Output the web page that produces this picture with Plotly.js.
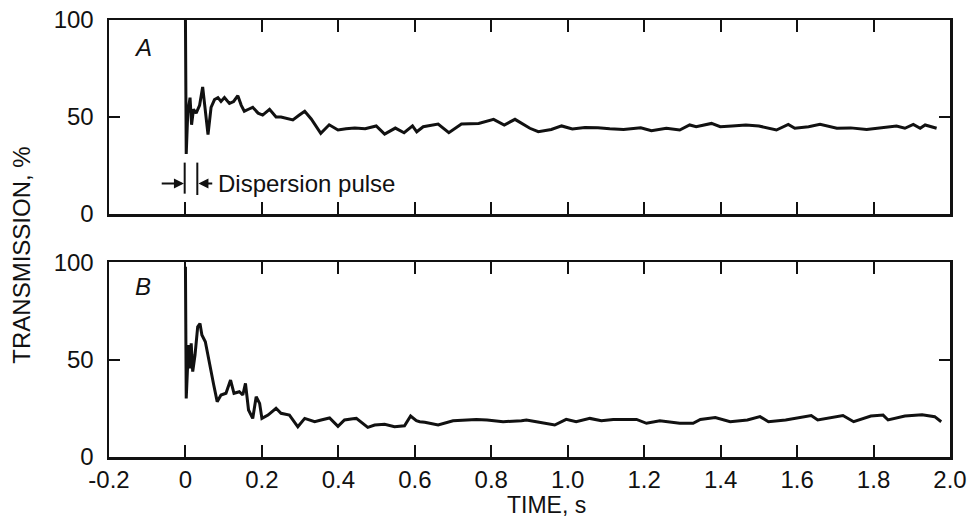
<!DOCTYPE html>
<html>
<head>
<meta charset="utf-8">
<script src="https://cdn.plot.ly/plotly-3.0.1.min.js"></script>
<style>
html,body{margin:0;padding:0;background:#fff;}
#chart{width:968px;height:521px;}
</style>
</head>
<body>
<div id="chart"></div>
<script>
// ---- data ----
var timeA = [0.000,0.002,0.006,0.012,0.016,0.021,0.028,0.037,0.045,0.052,0.059,0.067,0.076,0.085,0.093,0.102,0.115,0.126,0.137,0.146,0.154,0.165,0.176,0.190,0.202,0.220,0.237,0.250,0.264,0.281,0.298,0.312,0.329,0.346,0.354,0.376,0.399,0.420,0.443,0.470,0.499,0.521,0.549,0.572,0.594,0.605,0.622,0.661,0.689,0.722,0.767,0.806,0.834,0.862,0.879,0.901,0.923,0.957,0.984,1.012,1.045,1.079,1.110,1.146,1.191,1.219,1.258,1.293,1.319,1.336,1.376,1.399,1.430,1.466,1.500,1.546,1.577,1.594,1.630,1.660,1.704,1.740,1.782,1.820,1.860,1.882,1.904,1.922,1.935,1.965];
var transA = [100,31,52,60,46,54,52,56,65.5,54,41,55,59,60,58,60,57,58,61,56,53,54,55,52,51,54,50,50,49.5,48.5,51,53,49,44,41.6,46,43.3,44,44.3,44,45.4,41.2,44.3,41.9,45.4,42.4,45,46.4,41.9,46.4,46.7,48.8,45.9,48.8,46.7,44.2,42.4,43.6,45.4,43.8,44.6,44.5,44,43.6,44.5,42.9,44.2,43.3,45.9,45,46.7,45,45.4,45.9,45.4,43.3,46.2,44.2,45,46.2,44.2,44.4,43.6,44.6,45.4,44.2,46.2,44.2,45.9,44.2];

var timeB = [0.000,0.002,0.008,0.012,0.015,0.019,0.025,0.032,0.038,0.043,0.052,0.063,0.074,0.083,0.093,0.106,0.118,0.127,0.141,0.150,0.157,0.165,0.176,0.185,0.194,0.200,0.216,0.237,0.250,0.272,0.294,0.312,0.338,0.355,0.377,0.399,0.416,0.438,0.447,0.477,0.495,0.521,0.547,0.573,0.589,0.604,0.613,0.626,0.661,0.700,0.761,0.789,0.831,0.879,0.892,0.918,0.966,0.996,1.022,1.058,1.088,1.119,1.180,1.206,1.241,1.293,1.328,1.347,1.386,1.425,1.470,1.503,1.525,1.570,1.637,1.654,1.720,1.748,1.793,1.825,1.838,1.882,1.927,1.960,1.977];
var transB = [97.6,30,57.4,45.5,58.3,43.8,52.3,66.8,68.5,62.6,59.1,48.9,36.9,28.4,31.8,32.7,39.5,32.7,33.5,31.8,37.8,24.1,19.8,30.9,27.5,19.8,21.5,25,22.4,21.5,15.5,19.8,18.1,19,20,15.7,19,19.6,19.8,15.2,16.4,16.8,15.5,16,21,18.6,18.1,17.8,16.4,18.6,19.3,19,18.1,18.6,19,18.1,16.4,19.3,18.1,19.8,18.6,19.3,19.3,17.3,18.6,17.3,17.3,19.3,20.2,18.1,19,20.7,18.1,19,21.3,19,21.3,18.1,21,21.5,19,21,21.7,20.7,18.1];

var xTickVals = [-0.2,0,0.2,0.4,0.6,0.8,1.0,1.2,1.4,1.6,1.8,2.0];
var xTickText = ["-0.2","0","0.2","0.4","0.6","0.8","1.0","1.2","1.4","1.6","1.8","2.0"];
var yTickVals = [0,50,100];
var yTickText = ["0","50","100"];

var FONT = "Liberation Sans, Arial, Helvetica, sans-serif";
var lineStyle = {color:"#111", width:3};

var traces = [
  {x:timeA, y:transA, type:"scatter", mode:"lines", line:lineStyle, xaxis:"x", yaxis:"y", showlegend:false, hoverinfo:"skip"},
  {x:timeB, y:transB, type:"scatter", mode:"lines", line:lineStyle, xaxis:"x2", yaxis:"y2", showlegend:false, hoverinfo:"skip"}
];

function xAxis(showLabels, anchor){
  return {
    anchor: anchor, domain:[0,1], range:[-0.2,2.0],
    tickmode:"array", tickvals:xTickVals, ticktext:xTickText,
    showticklabels: showLabels,
    ticks:"inside", ticklen:12, tickwidth:2, tickcolor:"#111",
    mirror:"allticks", showline:true, linewidth:2.5, linecolor:"#111",
    showgrid:false, zeroline:false,
    tickfont:{family:FONT, size:24, color:"#111"}
  };
}
function yAxis(domain, anchor){
  return {
    anchor: anchor, domain:domain, range:[0,100],
    tickmode:"array", tickvals:yTickVals, ticktext:yTickText,
    ticks:"inside", ticklen:11, tickwidth:2, tickcolor:"#111",
    mirror:"allticks", showline:true, linewidth:2.5, linecolor:"#111",
    showgrid:false, zeroline:false, ticklabelstandoff:8,
    tickfont:{family:FONT, size:24, color:"#111"}
  };
}

var layout = {
  width:968, height:521,
  margin:{l:109, r:18, t:20, b:64},
  paper_bgcolor:"#fff", plot_bgcolor:"#fff",
  xaxis: xAxis(false, "y"),
  yaxis: yAxis([0.556,1], "x"),
  xaxis2: xAxis(true, "y2"),
  yaxis2: yAxis([0,0.446], "x2"),
  shapes:[
    {type:"line", xref:"x", yref:"y", x0:-0.002, x1:-0.002, y0:10.5, y1:26.5, line:{color:"#111", width:2}},
    {type:"line", xref:"x", yref:"y", x0:0.031, x1:0.031, y0:9.8, y1:26.5, line:{color:"#111", width:2}}
  ],
  annotations:[
    {text:"TRANSMISSION, %", xref:"paper", yref:"paper", x:-0.1045, y:0.461, xanchor:"center", yanchor:"middle", textangle:-90, showarrow:false, font:{family:FONT, size:24, color:"#111"}},
    {text:"TIME, s", xref:"paper", yref:"paper", x:0.52, y:-0.11, xanchor:"center", yanchor:"middle", showarrow:false, font:{family:FONT, size:23, color:"#111"}},
    {text:"<i>A</i>", xref:"x", yref:"y", x:-0.112, y:86, xanchor:"center", yanchor:"middle", showarrow:false, font:{family:FONT, size:24, color:"#111"}},
    {text:"<i>B</i>", xref:"x2", yref:"y2", x:-0.112, y:87.5, xanchor:"center", yanchor:"middle", showarrow:false, font:{family:FONT, size:24, color:"#111"}},
    {text:"Dispersion pulse", xref:"x", yref:"y", x:0.080, y:15.5, xanchor:"left", yanchor:"middle", showarrow:false, font:{family:FONT, size:24, color:"#111"}},
    {text:"", xref:"x", yref:"y", axref:"x", ayref:"y", x:-0.004, y:15.7, ax:-0.066, ay:15.7, showarrow:true, arrowhead:2, arrowsize:1, arrowwidth:2, arrowcolor:"#111", standoff:0},
    {text:"", xref:"x", yref:"y", axref:"x", ayref:"y", x:0.034, y:15.7, ax:0.074, ay:15.7, showarrow:true, arrowhead:2, arrowsize:1, arrowwidth:2, arrowcolor:"#111", standoff:0}
  ]
};

Plotly.newPlot("chart", traces, layout, {staticPlot:true, displayModeBar:false});
</script>
</body>
</html>
